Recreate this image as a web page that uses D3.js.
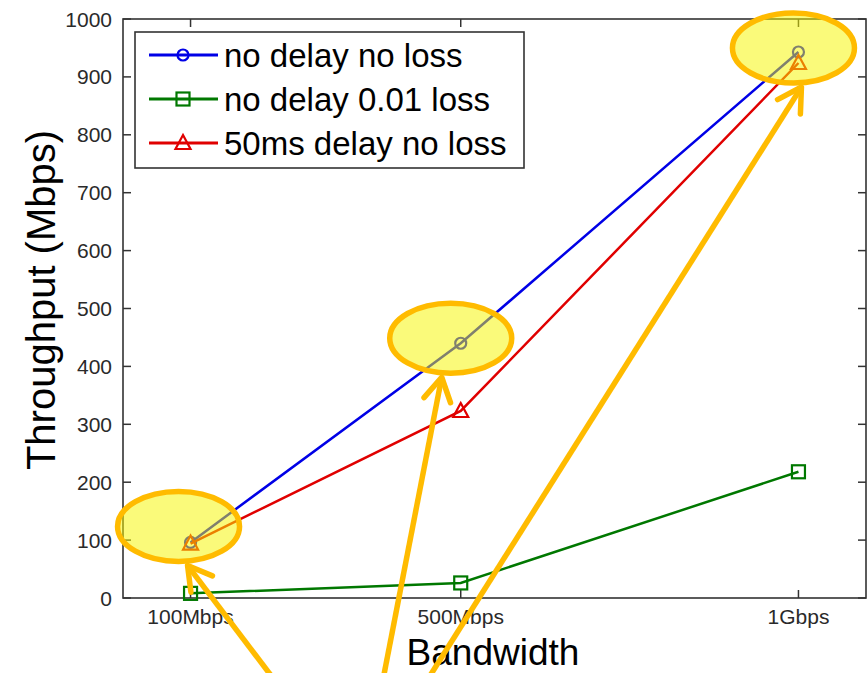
<!DOCTYPE html>
<html><head><meta charset="utf-8">
<script src="https://cdn.jsdelivr.net/npm/d3@7/dist/d3.min.js"></script>
<style>body{margin:0;background:#fff}svg{display:block}</style>
</head><body>
<svg id="chart" width="867" height="673"></svg>
<script>
// ---- data ----
const bandwidths = [100, 500, 1000];           // Mbps
const xTickLabels = ["100Mbps", "500Mbps", "1Gbps"];
const yTickValues = [0, 100, 200, 300, 400, 500, 600, 700, 800, 900, 1000];
const seriesNames = ["no delay no loss", "no delay 0.01 loss", "50ms delay no loss"];
const noDelayNoLoss = [96, 440, 943];
const noDelayLoss001 = [8, 26, 218];
const delay50msNoLoss = [94, 323, 924];
const highlightedPoints = [0, 1, 2];           // indices of "no delay no loss" circled

// ---- layout ----
const plot = {left: 123, right: 866, top: 19, bottom: 598};
const svg = d3.select("#chart");
const x = d3.scaleLinear().domain([0, 1100]).range([plot.left, plot.right]);
const y = d3.scaleLinear().domain([0, 1000]).range([plot.bottom, plot.top]);

const series = [
  {name: seriesNames[0], values: noDelayNoLoss, color: "#0000e6", marker: "circle"},
  {name: seriesNames[1], values: noDelayLoss001, color: "#007800", marker: "square"},
  {name: seriesNames[2], values: delay50msNoLoss, color: "#e00000", marker: "triangle"}
];

const axisColor = "#333";
const tickFont = "'Liberation Sans', Arial, sans-serif";

// axes box
svg.append("rect").attr("x", plot.left).attr("y", plot.top)
  .attr("width", plot.right - plot.left).attr("height", plot.bottom - plot.top)
  .attr("fill", "none").attr("stroke", axisColor).attr("stroke-width", 1.6);

// y ticks (inward on both sides)
const gy = svg.append("g");
yTickValues.forEach(v => {
  const yy = y(v);
  gy.append("line").attr("x1", plot.left).attr("x2", plot.left + 8).attr("y1", yy).attr("y2", yy)
    .attr("stroke", axisColor).attr("stroke-width", 1.5);
  gy.append("line").attr("x1", plot.right).attr("x2", plot.right - 8).attr("y1", yy).attr("y2", yy)
    .attr("stroke", axisColor).attr("stroke-width", 1.5);
  gy.append("text").attr("x", plot.left - 11).attr("y", yy).attr("dy", "0.36em")
    .attr("text-anchor", "end").attr("font-family", tickFont).attr("font-size", 21)
    .attr("fill", "#2a2a2a").text(v);
});

// x ticks
const gx = svg.append("g");
bandwidths.forEach((b, i) => {
  const xx = x(b);
  gx.append("line").attr("x1", xx).attr("x2", xx).attr("y1", plot.bottom).attr("y2", plot.bottom - 8)
    .attr("stroke", axisColor).attr("stroke-width", 1.5);
  gx.append("line").attr("x1", xx).attr("x2", xx).attr("y1", plot.top).attr("y2", plot.top + 8)
    .attr("stroke", axisColor).attr("stroke-width", 1.5);
  gx.append("text").attr("x", xx).attr("y", 624).attr("text-anchor", "middle")
    .attr("font-family", tickFont).attr("font-size", 21).attr("fill", "#2a2a2a")
    .text(xTickLabels[i]);
});

// axis titles
svg.append("text").attr("x", 493).attr("y", 665).attr("text-anchor", "middle")
  .attr("font-family", tickFont).attr("font-size", 37).attr("fill", "#000").text("Bandwidth");
svg.append("text").attr("transform", "translate(55,300) rotate(-90)").attr("text-anchor", "middle")
  .attr("font-family", tickFont).attr("font-size", 40).attr("fill", "#000").text("Throughput (Mbps)");

// marker drawer
function drawMarker(g, type, cx, cy, color) {
  if (type === "circle") {
    g.append("circle").attr("cx", cx).attr("cy", cy).attr("r", 5.5)
      .attr("fill", "none").attr("stroke", color).attr("stroke-width", 2.2);
  } else if (type === "square") {
    g.append("rect").attr("x", cx - 6.5).attr("y", cy - 6.5).attr("width", 13).attr("height", 13)
      .attr("fill", "none").attr("stroke", color).attr("stroke-width", 2.2);
  } else {
    g.append("path").attr("d", `M${cx},${cy - 8}L${cx + 7.5},${cy + 6}L${cx - 7.5},${cy + 6}Z`)
      .attr("fill", "none").attr("stroke", color).attr("stroke-width", 2.2);
  }
}

// lines + markers
const line = d3.line().x((d, i) => x(bandwidths[i])).y(d => y(d));
const gl = svg.append("g");
series.forEach(s => {
  gl.append("path").attr("d", line(s.values)).attr("fill", "none")
    .attr("stroke", s.color).attr("stroke-width", 2.5);
  s.values.forEach((v, i) => drawMarker(gl, s.marker, x(bandwidths[i]), y(v), s.color));
});

// legend
const lg = svg.append("g");
lg.append("rect").attr("x", 135).attr("y", 32).attr("width", 389).attr("height", 136)
  .attr("fill", "#fff").attr("stroke", axisColor).attr("stroke-width", 1.6);
series.forEach((s, i) => {
  const ly = 55 + i * 44;
  lg.append("line").attr("x1", 149).attr("x2", 218).attr("y1", ly).attr("y2", ly)
    .attr("stroke", s.color).attr("stroke-width", 3);
  drawMarker(lg, s.marker, 183, ly, s.color);
  lg.append("text").attr("x", 224).attr("y", ly + 12).attr("font-family", tickFont)
    .attr("font-size", 33).attr("fill", "#000").text(s.name);
});

// highlight ellipses around "no delay no loss" points
const ellOffsets = [[-12, -16], [-10, -5], [-5, -4]];
const rx = 61, ry = 35;
const arrowTails = [[282, 690], [381, 690], [421, 690]];
const tipDx = [9, -9, 8];
const annot = svg.append("g");
const ellipses = highlightedPoints.map((idx, k) => ({
  cx: x(bandwidths[idx]) + ellOffsets[k][0],
  cy: y(noDelayNoLoss[idx]) + ellOffsets[k][1]
}));
ellipses.forEach(e => {
  annot.append("ellipse").attr("cx", e.cx).attr("cy", e.cy).attr("rx", rx).attr("ry", ry)
    .attr("fill", "rgba(245,245,0,0.52)").attr("stroke", "#ffbb00").attr("stroke-width", 5.5);
});
// arrows
ellipses.forEach((e, k) => {
  const tip = [e.cx + tipDx[k], e.cy + ry + 4];
  const tail = arrowTails[k];
  const dx = tail[0] - tip[0], dy = tail[1] - tip[1];
  const len = Math.hypot(dx, dy);
  const ux = dx / len, uy = dy / len;
  const a = 30 * Math.PI / 180, L = 27;
  const arm = s => [tip[0] + L * (ux * Math.cos(s * a) - uy * Math.sin(s * a)),
                    tip[1] + L * (ux * Math.sin(s * a) + uy * Math.cos(s * a))];
  const p1 = arm(1), p2 = arm(-1);
  annot.append("line").attr("x1", tail[0]).attr("y1", tail[1]).attr("x2", tip[0]).attr("y2", tip[1])
    .attr("stroke", "#ffbb00").attr("stroke-width", 5.5);
  annot.append("path").attr("d", `M${p1[0]},${p1[1]}L${tip[0]},${tip[1]}L${p2[0]},${p2[1]}`)
    .attr("fill", "none").attr("stroke", "#ffbb00").attr("stroke-width", 5.5)
    .attr("stroke-linecap", "round").attr("stroke-linejoin", "round");
});
</script>
</body></html>
